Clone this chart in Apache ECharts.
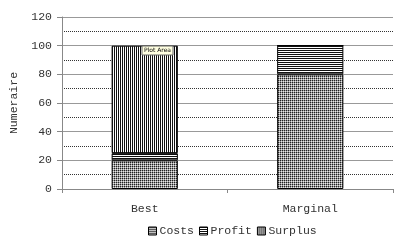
<!DOCTYPE html>
<html><head><meta charset="utf-8">
<script src="https://cdn.jsdelivr.net/npm/echarts@6/dist/echarts.min.js"></script>
<style>html,body{margin:0;padding:0;background:#fff}#c{width:400px;height:244px}</style>
</head><body><div id="c"></div>
<script>
const categories = ['Best', 'Marginal'];
const costs = [20, 80];
const profit = [5, 20];
const surplus = [75, 0];
const yTicks = [0, 20, 40, 60, 80, 100, 120];

function pat(w, h, draw) {
  const c = document.createElement('canvas');
  c.width = w; c.height = h;
  const x = c.getContext('2d');
  x.fillStyle = '#fff'; x.fillRect(0, 0, w, h);
  draw(x);
  return { image: c, repeat: 'repeat' };
}
const costPat = () => pat(2, 2, x => { x.fillStyle = '#9a9a9a'; x.fillRect(0,0,2,2); x.fillStyle = '#222'; x.fillRect(0,0,1,1); x.fillStyle = '#e8e8e8'; x.fillRect(1,1,1,1); });
const profitPat = () => pat(2, 2, x => { x.fillStyle = '#111'; x.fillRect(0,0,2,1); });
const surplusPat = () => pat(2, 2, x => { x.fillStyle = '#111'; x.fillRect(0,0,1,2); });

const font = '"Liberation Mono", "Courier New", monospace';
const chart = echarts.init(document.getElementById('c'), null, { renderer: 'canvas' });
const mk = (name, data, color) => ({
  name, type: 'bar', stack: 's', data, barWidth: '40%',
  itemStyle: { color, borderColor: '#000', borderWidth: 1 },
  emphasis: { disabled: true }
});
chart.setOption({
  animation: false,
  grid: { left: 62, right: 7, top: 17, bottom: 55, outerBoundsMode: 'none', containLabel: false },
  legend: {
    bottom: 2, left: 143, itemWidth: 8, itemHeight: 8, itemGap: 5,
    icon: 'rect',
    textStyle: { fontFamily: font, fontSize: 11.5, color: '#333', padding: [0,0,0,-2] },
    data: [
      { name: 'Costs', itemStyle: { color: costPat(), borderColor: '#000', borderWidth: 1 } },
      { name: 'Profit', itemStyle: { color: profitPat(), borderColor: '#000', borderWidth: 1 } },
      { name: 'Surplus', itemStyle: { color: surplusPat(), borderColor: '#000', borderWidth: 1 } }
    ]
  },
  xAxis: {
    type: 'category', data: categories,
    axisLine: { lineStyle: { color: '#888', width: 1 } },
    axisTick: { show: true, alignWithLabel: false, length: 4, lineStyle: { color: '#888' } },
    axisLabel: { fontFamily: font, fontSize: 11.5, color: '#333', margin: 14 }
  },
  yAxis: {
    type: 'value', min: 0, max: 120, interval: 20,
    name: 'Numeraire', nameLocation: 'middle', nameRotate: 90, nameGap: 35,
    nameTextStyle: { fontFamily: font, fontSize: 11.5, color: '#333' },
    axisLine: { show: true, lineStyle: { color: '#888' } },
    axisTick: { show: true, length: 5, lineStyle: { color: '#888' } },
    axisLabel: { fontFamily: font, fontSize: 11.5, color: '#333', margin: 10,
      formatter: v => yTicks.includes(v) ? String(v) : '' },
    splitLine: { lineStyle: { color: '#999', width: 1 } },
    minorTick: { show: false, splitNumber: 2 },
    minorSplitLine: { show: true, lineStyle: { color: '#333', type: [1, 1], width: 1 } }
  },
  series: [mk('Costs', costs, costPat()), mk('Profit', profit, profitPat()), mk('Surplus', surplus, surplusPat())]
});
chart.setOption({
  graphic: [
    { type: 'rect', x: 142, y: 46, z: 100, zlevel: 1, shape: { x: 0, y: 0, width: 31, height: 9 }, style: { fill: '#ffffe1', stroke: '#666', lineWidth: 1 } },
    { type: 'text', x: 144, y: 47, z: 101, zlevel: 1, style: { text: 'Plot Area', fontFamily: 'DejaVu Sans', fontSize: 6, fill: '#000' } }
  ]
});
</script></body></html>
